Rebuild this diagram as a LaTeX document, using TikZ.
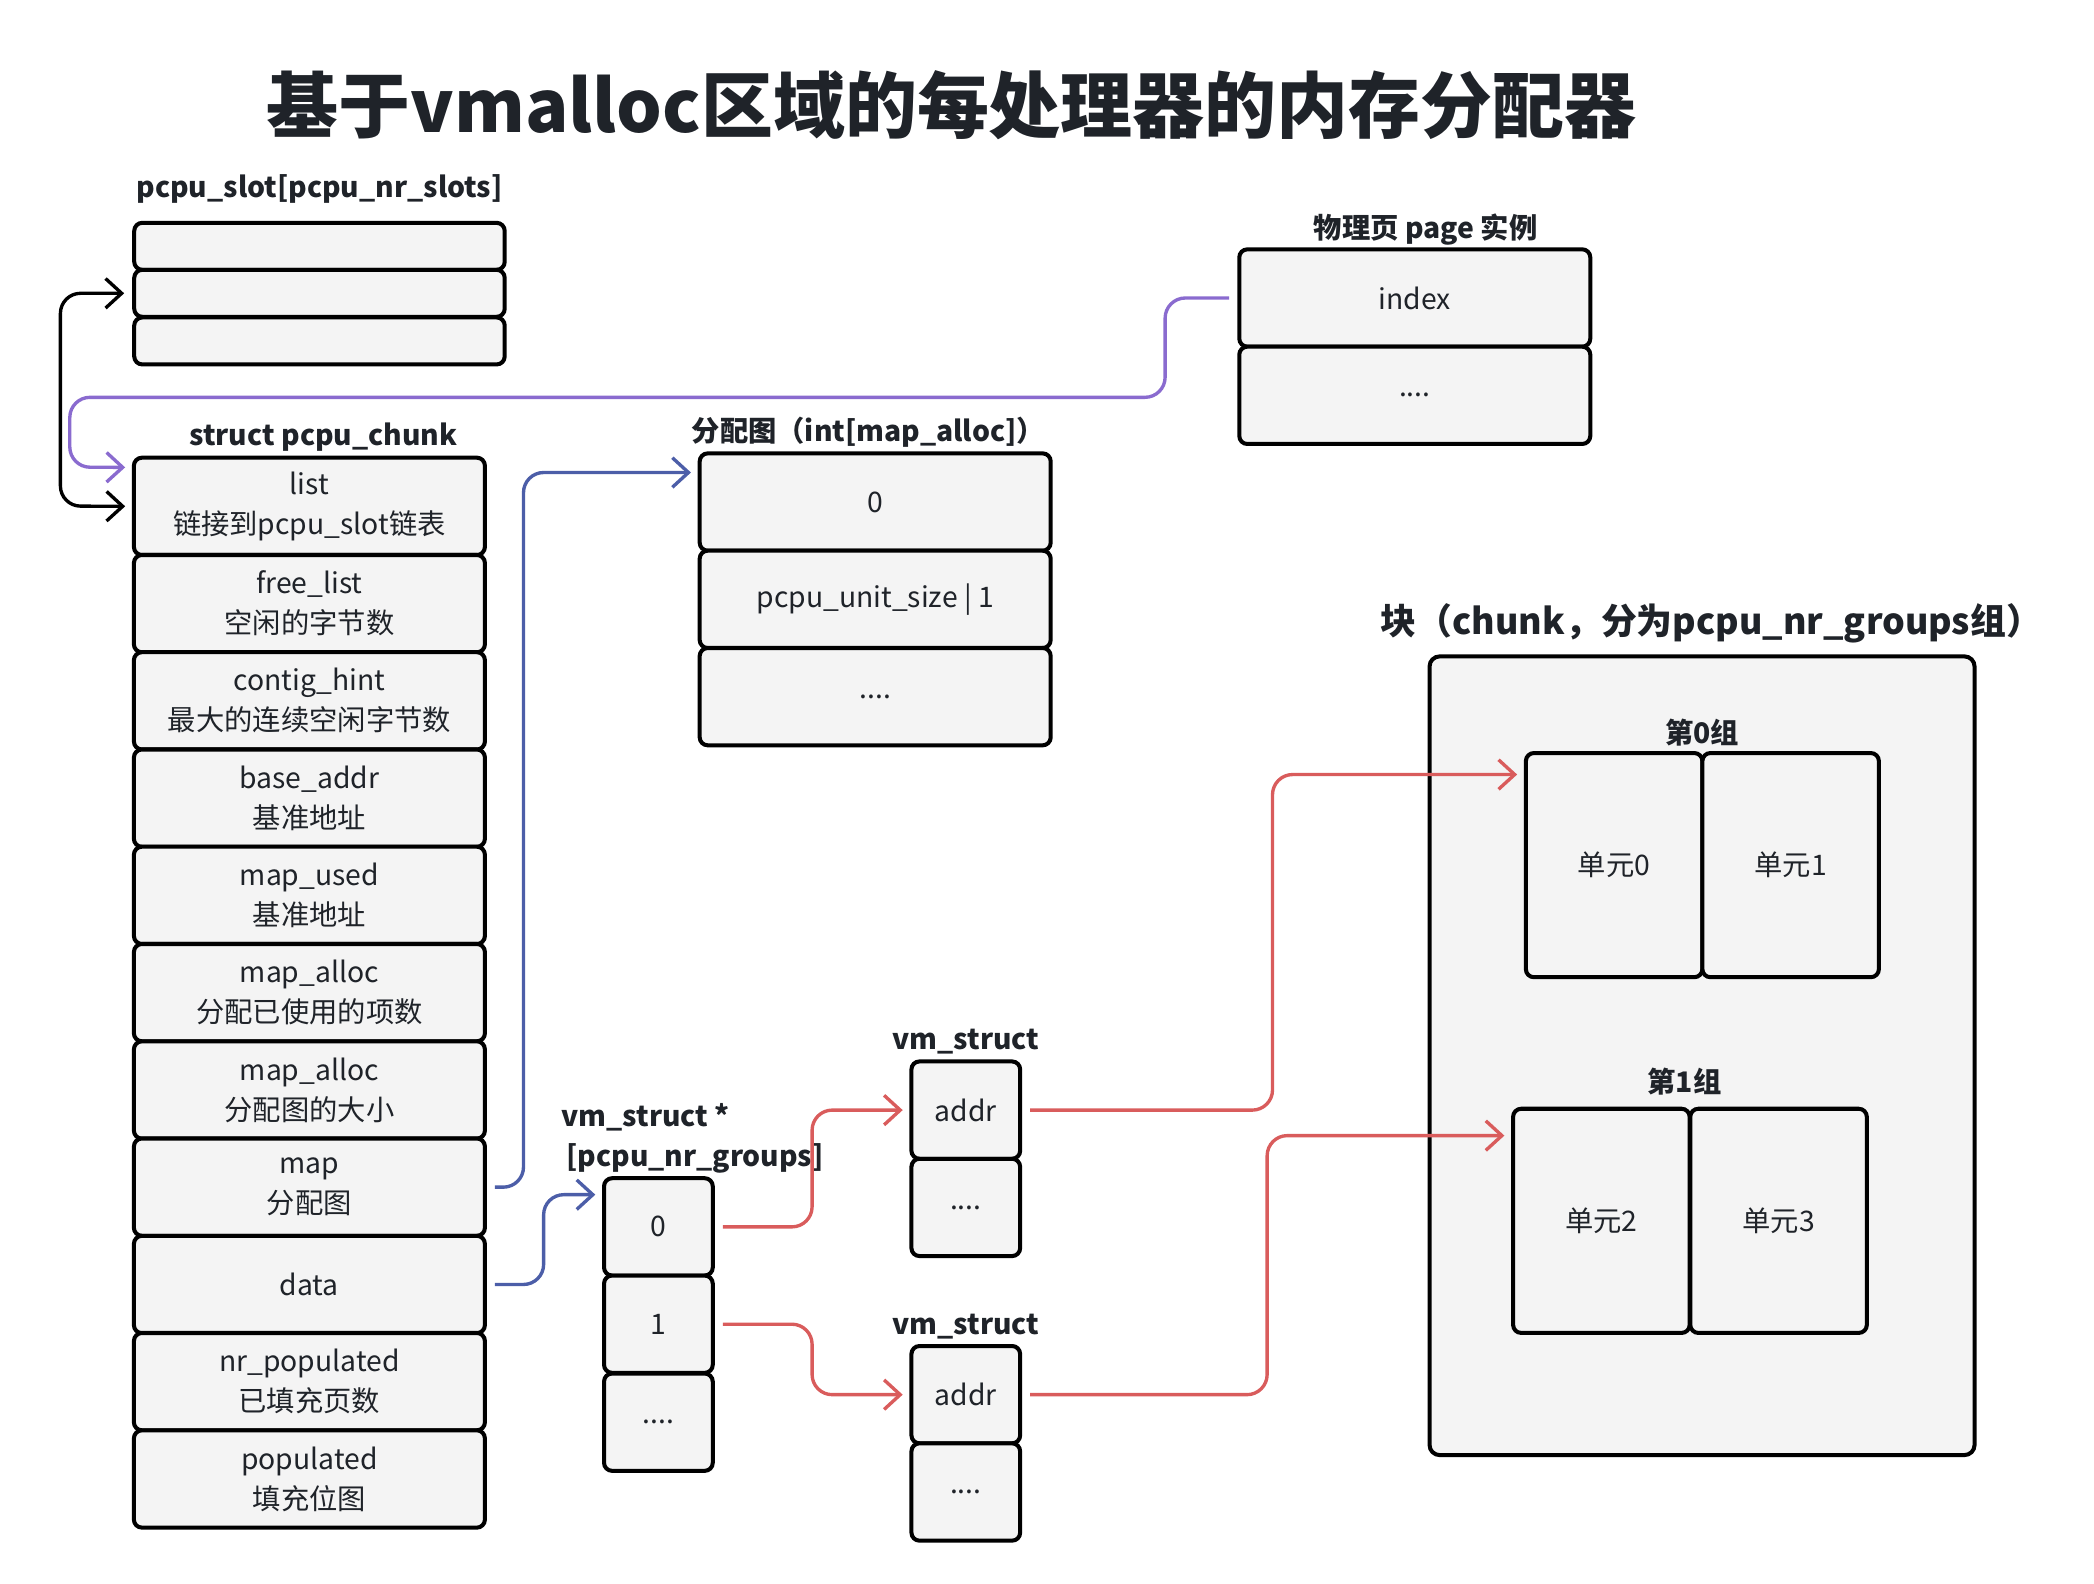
\documentclass[tikz,border=0pt]{standalone}
\usepackage{fontspec}
\setmainfont{Noto Sans CJK SC}
\usetikzlibrary{arrows.meta}
\definecolor{boxgray}{HTML}{F4F4F4}
\definecolor{ink}{HTML}{1F2329}
\definecolor{linkred}{HTML}{D95C5C}
\definecolor{linkblue}{HTML}{4C5EA8}
\definecolor{linkpurple}{HTML}{8A6BCF}

\begin{document}
\begin{tikzpicture}[x=0.2mm, y=-0.2mm,
    >={Straight Barb[length=2.4mm,width=4.4mm]},
    cell/.style={rectangle, rounded corners=1.2mm, draw=black, line width=0.6mm, fill=boxgray, text=ink, align=center, inner sep=0pt, font=\fontsize{12}{17}\selectfont},
    slotcell/.style={cell, minimum width=55.2mm, minimum height=7mm},
    rowcell/.style={cell, minimum width=52.3mm, minimum height=14.5mm},
    thincell/.style={cell, minimum width=16.2mm, minimum height=14.5mm},
    unitcell/.style={cell, minimum width=26.3mm, minimum height=33.4mm},
    caption/.style={text=ink, inner sep=0pt, font=\fontsize{12}{17}\selectfont\bfseries},
    link/.style={line width=0.5mm, rounded corners=3mm, shorten <=1.2mm, shorten >=1mm}]
        \useasboundingbox (0,0) rectangle (1560,1180);
        %\draw [very thin, green, step=100] (0,0) grid (1560,1180);
        \node at (709,78) [text=ink, font=\fontsize{30.5}{36}\selectfont\bfseries] (title) {基于vmalloc区域的每处理器的内存分配器};

        % pcpu_slot
        \node at (238,141) [caption] (slotcap) {pcpu\_slot[pcpu\_nr\_slots]};
        \node at (238,183.5) [slotcell] (s1) {};
        \node at (238,218.5) [slotcell] (s2) {};
        \node at (238,254) [slotcell] (s3) {};

        % page
        \node at (1062,171) [caption] (pagecap) {物理页 page 实例};
        \node at (1054,222) [rowcell] (pi) {index};
        \node at (1054,294.5) [rowcell] (pd) {....};

        % pcpu_chunk
        \node at (241,326) [caption] (chunkcap) {struct pcpu\_chunk};
        \node at (230.5,377.2) [rowcell] (c1) {list\\链接到pcpu\_slot链表};
        \node at (230.5,449.7) [rowcell] (c2) {free\_list\\空闲的字节数};
        \node at (230.5,522.1) [rowcell] (c3) {contig\_hint\\最大的连续空闲字节数};
        \node at (230.5,594.6) [rowcell] (c4) {base\_addr\\基准地址};
        \node at (230.5,667) [rowcell] (c5) {map\_used\\基准地址};
        \node at (230.5,739.5) [rowcell] (c6) {map\_alloc\\分配已使用的项数};
        \node at (230.5,812) [rowcell] (c7) {map\_alloc\\分配图的大小};
        \node at (230.5,884.4) [rowcell] (c8) {map\\分配图};
        \node at (230.5,956.9) [rowcell] (c9) {data};
        \node at (230.5,1029.3) [rowcell] (c10) {nr\_populated\\已填充页数};
        \node at (230.5,1101.8) [rowcell] (c11) {populated\\填充位图};

        % map
        \node at (647,322) [caption] (mapcap) {分配图（int[map\_alloc]）};
        \node at (652,374) [rowcell] (m1) {0};
        \node at (652,446.5) [rowcell] (m2) {pcpu\_unit\_size | 1};
        \node at (652,519) [rowcell] (m3) {....};

        % vm_struct array
        \node at (418,848) [caption, anchor=west, align=left] (grpcap) {vm\_struct *\\\,[pcpu\_nr\_groups]};
        \node at (490.5,914) [thincell] (g0) {0};
        \node at (490.5,986.5) [thincell] (g1) {1};
        \node at (490.5,1059.5) [thincell] (g2) {....};

        \node at (719.5,776) [caption] (vmcap1) {vm\_struct};
        \node at (719.5,827) [thincell] (va) {addr};
        \node at (719.5,899.5) [thincell] (vd) {....};
        \node at (719.5,988) [caption] (vmcap2) {vm\_struct};
        \node at (719.5,1039) [thincell] (wa) {addr};
        \node at (719.5,1111.5) [thincell] (wd) {....};

        % chunk
        \node at (1275,464) [caption, font=\fontsize{15.2}{19}\selectfont\bfseries] (blkcap) {块（chunk，分为pcpu\_nr\_groups组）};
        \node at (1268,786.5) [cell, rounded corners=1.5mm, minimum width=81.2mm, minimum height=119mm] (blk) {};
        \node at (1268,546) [caption] (grp0) {第0组};
        \node at (1202.5,644.5) [unitcell] (u0) {单元0};
        \node at (1334,644.5) [unitcell] (u1) {单元1};
        \node at (1255,806) [caption] (grp1) {第1组};
        \node at (1193,909.5) [unitcell] (u2) {单元2};
        \node at (1325,909.5) [unitcell] (u3) {单元3};

        \draw [link, <->, black] (s2.west) -| (45,377) -- (c1.west);
        \draw [link, ->, linkpurple] (pi.west) -| (868,296) -| (52,348) -- ([yshift=5.8mm]c1.west);
        \draw [link, ->, linkblue] (c8.east) -| (390,352) -- ([yshift=4.4mm]m1.west);
        \draw [link, ->, linkblue] (c9.east) -| (405,890) -- ([yshift=4.8mm]g0.west);
        \draw [link, ->, linkred] (g0.east) -| (605,827) -- (va.west);
        \draw [link, ->, linkred] (g1.east) -| (605,1039) -- (wa.west);
        \draw [link, ->, linkred] (va.east) -| (948,577) -- ([yshift=13.5mm]u0.west);
        \draw [link, ->, linkred] (wa.east) -| (944,846) -- ([yshift=12.7mm]u2.west);
    \end{tikzpicture}
\end{document}
